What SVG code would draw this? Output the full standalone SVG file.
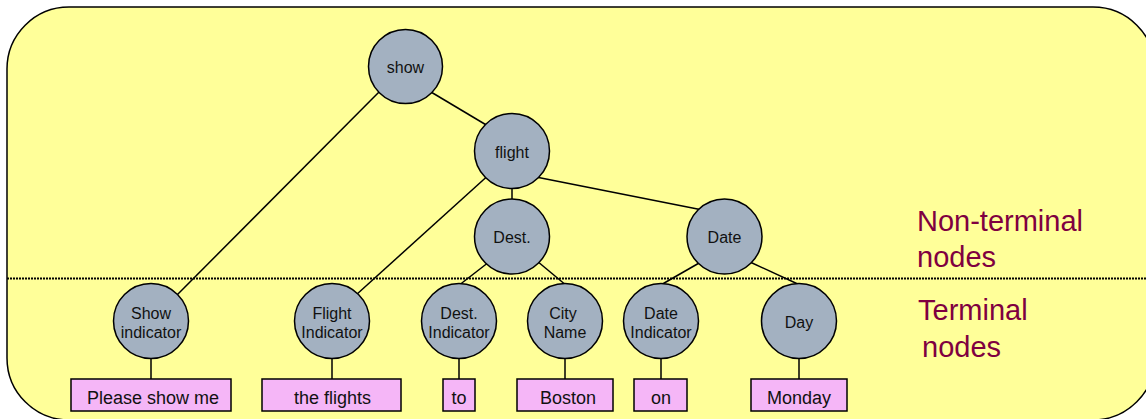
<svg xmlns="http://www.w3.org/2000/svg" width="1146" height="419" viewBox="0 0 1146 419">
<style>
.n circle{fill:#A3B1C1;stroke:#000;stroke-width:1.5}
.n text{font-family:"Liberation Sans",Arial,sans-serif;font-size:16px;fill:#111;text-anchor:middle}
.b rect{fill:#F5B6F7;stroke:#000;stroke-width:1.5}
.b text{font-family:"Liberation Sans",Arial,sans-serif;font-size:18px;fill:#111;text-anchor:middle}
.c line{stroke:#000;stroke-width:1.5}
.lbl{font-family:"Liberation Sans",Arial,sans-serif;font-size:29px;fill:#7F0040}
</style>
<rect x="7" y="7" width="1148" height="413" rx="62" ry="62" fill="#FFFF99" stroke="#000" stroke-width="1.5"/>
<line x1="7" y1="278.5" x2="1146" y2="278.5" stroke="#000" stroke-width="2" stroke-dasharray="2 1"/>
<g id="connectors" class="c">
<line x1="380" y1="91" x2="176" y2="296"/>
<line x1="431" y1="92" x2="488" y2="126"/>
<line x1="487" y1="176.5" x2="356" y2="295"/>
<line x1="512" y1="187" x2="512" y2="200"/>
<line x1="536" y1="177" x2="700" y2="209.5"/>
<line x1="487" y1="263.5" x2="458" y2="286"/>
<line x1="537" y1="261" x2="567" y2="286"/>
<line x1="700" y1="262.5" x2="659" y2="286"/>
<line x1="750" y1="262" x2="801" y2="285.5"/>
<line x1="151" y1="357" x2="151" y2="379"/>
<line x1="332" y1="357" x2="332" y2="379"/>
<line x1="459" y1="357" x2="459" y2="379"/>
<line x1="565" y1="357" x2="565" y2="379"/>
<line x1="661" y1="357" x2="661" y2="379"/>
<line x1="799" y1="357" x2="799" y2="379"/>
</g>
<g id="n-show" class="n"><circle cx="405.5" cy="66.5" r="37"/><text x="405.5" y="73">show</text></g>
<g id="n-flight" class="n"><circle cx="512" cy="151" r="37.5"/><text x="512" y="157.5">flight</text></g>
<g id="n-dest" class="n"><circle cx="512" cy="236.5" r="37.5"/><text x="512" y="243">Dest.</text></g>
<g id="n-date" class="n"><circle cx="724.5" cy="236.5" r="37.5"/><text x="724.5" y="243">Date</text></g>
<g id="n-showind" class="n"><circle cx="151" cy="321" r="37.5"/><text x="151" y="319">Show</text><text x="151" y="337.5">indicator</text></g>
<g id="n-flightind" class="n"><circle cx="332" cy="321" r="37.5"/><text x="332" y="319">Flight</text><text x="332" y="337.5">Indicator</text></g>
<g id="n-destind" class="n"><circle cx="459" cy="321" r="37.5"/><text x="459" y="319">Dest.</text><text x="459" y="337.5">Indicator</text></g>
<g id="n-city" class="n"><circle cx="565" cy="321" r="37.5"/><text x="563" y="319">City</text><text x="565" y="337.5">Name</text></g>
<g id="n-dateind" class="n"><circle cx="661" cy="321" r="37.5"/><text x="661" y="319">Date</text><text x="661" y="337.5">Indicator</text></g>
<g id="n-day" class="n"><circle cx="799" cy="321" r="37.5"/><text x="799" y="327.5">Day</text></g>
<g id="b-please" class="b"><rect x="71" y="379" width="160" height="32"/><text x="153" y="403.5">Please show me</text></g>
<g id="b-flights" class="b"><rect x="262" y="379" width="139" height="32"/><text x="332.5" y="403.5">the flights</text></g>
<g id="b-to" class="b"><rect x="443" y="379" width="32" height="32"/><text x="459" y="403.5">to</text></g>
<g id="b-boston" class="b"><rect x="517" y="379" width="96" height="32"/><text x="568" y="403.5">Boston</text></g>
<g id="b-on" class="b"><rect x="634" y="379" width="53" height="32"/><text x="661" y="403.5">on</text></g>
<g id="b-monday" class="b"><rect x="751" y="379" width="96" height="32"/><text x="799" y="403.5">Monday</text></g>
<g id="legend">
<text class="lbl" x="917" y="231">Non-terminal</text>
<text class="lbl" x="917" y="267">nodes</text>
<text class="lbl" x="918" y="320">Terminal</text>
<text class="lbl" x="922" y="357">nodes</text>
</g>
</svg>
